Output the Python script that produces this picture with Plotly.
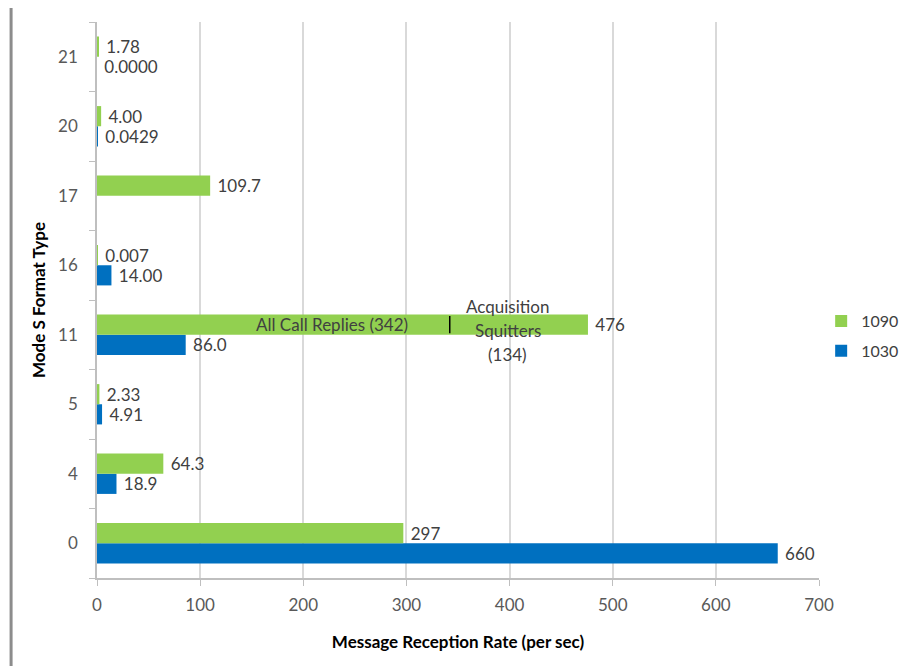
import plotly.graph_objects as go

# Mode S format types (bottom to top)
formats = ["0", "4", "5", "11", "16", "17", "20", "21"]

rate_1090 = [297, 64.3, 2.33, 476, 0.007, 109.7, 4.00, 1.78]
labels_1090 = ["297", "64.3", "2.33", "476", "0.007", "109.7", "4.00", "1.78"]

rate_1030 = [660, 18.9, 4.91, 86.0, 14.00, None, 0.0429, 0.0]
labels_1030 = ["660", "18.9", "4.91", "86.0", "14.00", "", "0.0429", "0.0000"]

# split of the 476 DF11 messages
all_call = 342
squitters = 134
squitter_lines = ["Acquisition", "Squitters", "(134)"]

GREEN = "#92D050"
BLUE = "#0070C0"
FONT = "Lato"
FS = 17

idx_11 = formats.index("11")

fig = go.Figure()
fig.add_trace(go.Bar(
    y=formats, x=rate_1030, name="1030", orientation="h",
    marker=dict(color=BLUE, line=dict(width=0)),
    text=[" " + t for t in labels_1030], textposition="outside",
    textfont=dict(family=FONT, size=FS, color="#404040"),
    cliponaxis=False, constraintext="none", legendgroup="b", legendrank=2,
))
fig.add_trace(go.Bar(
    y=formats, x=rate_1090, name="1090", orientation="h",
    marker=dict(color=GREEN, line=dict(width=0)),
    text=[" " + t for t in labels_1090], textposition="outside",
    textfont=dict(family=FONT, size=FS, color="#404040"),
    cliponaxis=False, constraintext="none", legendgroup="a", legendrank=1,
))

# divider between all-call replies and squitters inside the 11 bar
fig.add_shape(type="line", xref="x", yref="y", x0=all_call, x1=all_call,
              y0=idx_11 + 0.02, y1=idx_11 + 0.27, line=dict(color="#000000", width=1.5))

fig.add_annotation(x=all_call, y=idx_11, xref="x", yref="y", xanchor="right",
                   xshift=-40, yshift=10, showarrow=False,
                   text="All Call Replies (342)",
                   font=dict(family=FONT, size=FS, color="#404040"))
for i, line in enumerate(squitter_lines):
    fig.add_annotation(x=all_call + squitters / 2 - 11, y=idx_11, xref="x", yref="y",
                       yshift=28 - i * 24, showarrow=False, text=line,
                       font=dict(family=FONT, size=FS, color="#404040"))

# chart frame (left and top edges)
fig.add_shape(type="line", xref="paper", yref="paper", x0=-0.119, x1=-0.119,
              y0=-0.2, y1=1.028, line=dict(color="#8c8c8c", width=3))
fig.add_shape(type="line", xref="paper", yref="paper", x0=-0.117, x1=1.2,
              y0=1.027, y1=1.027, line=dict(color="#e6e6e6", width=2))

fig.update_layout(
    width=911, height=666,
    margin=dict(l=89, r=100, t=14, b=96, autoexpand=False),
    paper_bgcolor="white", plot_bgcolor="white",
    barmode="group", bargap=0.42, bargroupgap=0,
    font=dict(family=FONT, size=FS, color="#595959"),
    legend=dict(x=1.003, y=0.435, xanchor="left", yanchor="middle",
                traceorder="grouped", tracegroupgap=6,
                font=dict(family=FONT, size=16, color="#404040")),
    xaxis=dict(
        range=[0, 700], dtick=100, showgrid=True, gridcolor="#d9d9d9", gridwidth=2,
        showline=True, linecolor="#bfbfbf", linewidth=1.5,
        ticks="outside", ticklen=6, tickcolor="#bfbfbf", ticklabelstandoff=5,
        zeroline=False, automargin=False,
        title=dict(text="<b>Message Reception Rate (per sec)</b>", standoff=22,
                   font=dict(family=FONT, size=FS, color="#000000")),
    ),
    yaxis=dict(
        type="category", categoryorder="array", categoryarray=formats,
        range=[-0.5, len(formats) - 0.5], automargin=False,
        showline=True, linecolor="#bfbfbf", linewidth=1.5,
        ticks="outside", ticklen=6, tickcolor="#bfbfbf", tickson="boundaries",
        showgrid=False, ticklabelstandoff=14,
        title=dict(text="<b>Mode S Format Type</b>", standoff=8,
                   font=dict(family=FONT, size=FS, color="#000000")),
    ),
)

fig.write_html("out.html")
